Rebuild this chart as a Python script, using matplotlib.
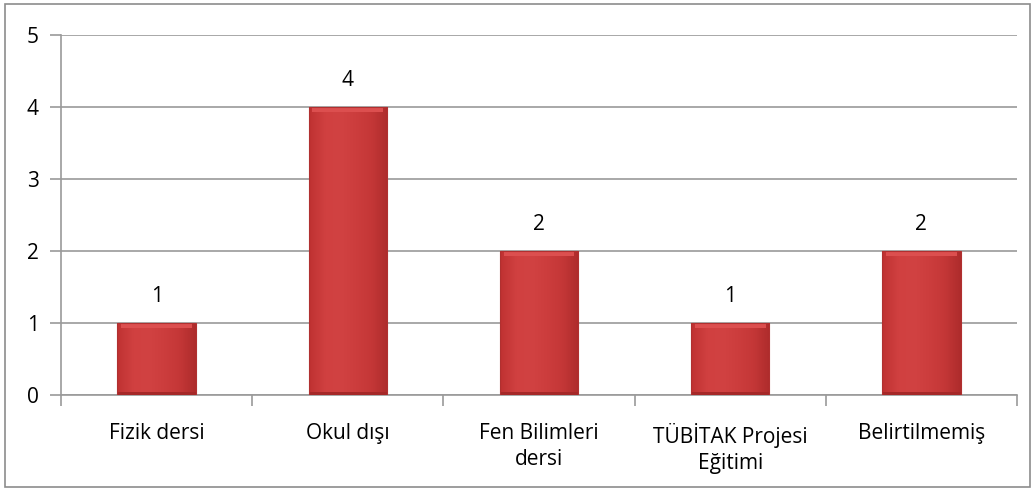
import matplotlib
matplotlib.use("Agg")
import matplotlib.pyplot as plt
import numpy as np
from matplotlib.patches import Rectangle
from matplotlib.colors import LinearSegmentedColormap

categories = ["Fizik dersi", "Okul dışı", "Fen Bilimleri\ndersi", "TÜBİTAK Projesi\nEğitimi", "Belirtilmemiş"]
values = [1, 4, 2, 1, 2]
yticks = [0, 1, 2, 3, 4, 5]

plt.rcParams['font.family'] = ['Open Sans', 'DejaVu Sans']

W, H = 1036, 492
fig = plt.figure(figsize=(W / 100, H / 100), dpi=100)
ax = fig.add_axes([61 / W, 1 - 395 / H, (1017 - 61) / W, (395 - 35) / H])

n = len(categories)
x = np.arange(n)
bw = 0.41
ax.set_xlim(-0.5, n - 0.5)
ax.set_ylim(0, 5)

for t in yticks:
    ax.axhline(t, color="#9a9a9a", lw=1.2, zorder=1)

cmap = LinearSegmentedColormap.from_list(
    "bar", ["#bf3232", "#d04040", "#d14242", "#cc3d3d", "#c43737", "#ae2c2c"])
grad = np.linspace(0, 1, 64).reshape(1, -1)
for xi, v in zip(x, values):
    ax.imshow(grad, extent=(xi - bw / 2, xi + bw / 2, 0, v), cmap=cmap,
              aspect="auto", zorder=2, interpolation="bicubic")
    bev = 0.07
    ax.add_patch(Rectangle((xi - bw / 2 + 0.02, v - bev), bw - 0.04, bev, facecolor="#dc4f4f",
                           edgecolor="none", zorder=3))
    ax.add_patch(Rectangle((xi - bw / 2, 0), bw, 0.04, facecolor="#a52828",
                           edgecolor="none", zorder=3))
    ax.add_patch(Rectangle((xi - bw / 2, 0), bw, v, facecolor="none",
                           edgecolor="#b03030", lw=0.8, zorder=4))
    ax.text(xi, v + 0.22, str(v), ha="center", va="bottom", fontsize=15, color="black")

for s in ["top", "right"]:
    ax.spines[s].set_visible(False)
for s in ["left", "bottom"]:
    ax.spines[s].set_color("#9a9a9a")
    ax.spines[s].set_linewidth(1.2)

ax.set_yticks(yticks)
ax.set_yticklabels([str(t) for t in yticks], fontsize=15)
ax.tick_params(axis="y", length=8, color="#9a9a9a", width=1.2, pad=8)

ax.set_xticks(x)
ax.set_xticklabels(categories, fontsize=15, linespacing=1.3)
ax.tick_params(axis="x", length=0, pad=20)
ax.set_xticks(np.arange(n + 1) - 0.5, minor=True)
ax.tick_params(axis="x", which="minor", length=8, color="#9a9a9a", width=1.2)

fig.patches.append(Rectangle((5 / W, 5 / H), (1030 - 5) / W, (488 - 5) / H,
                             transform=fig.transFigure, fill=False,
                             edgecolor="#8c8c8c", lw=1.2))

fig.savefig("out.png", dpi=100)
